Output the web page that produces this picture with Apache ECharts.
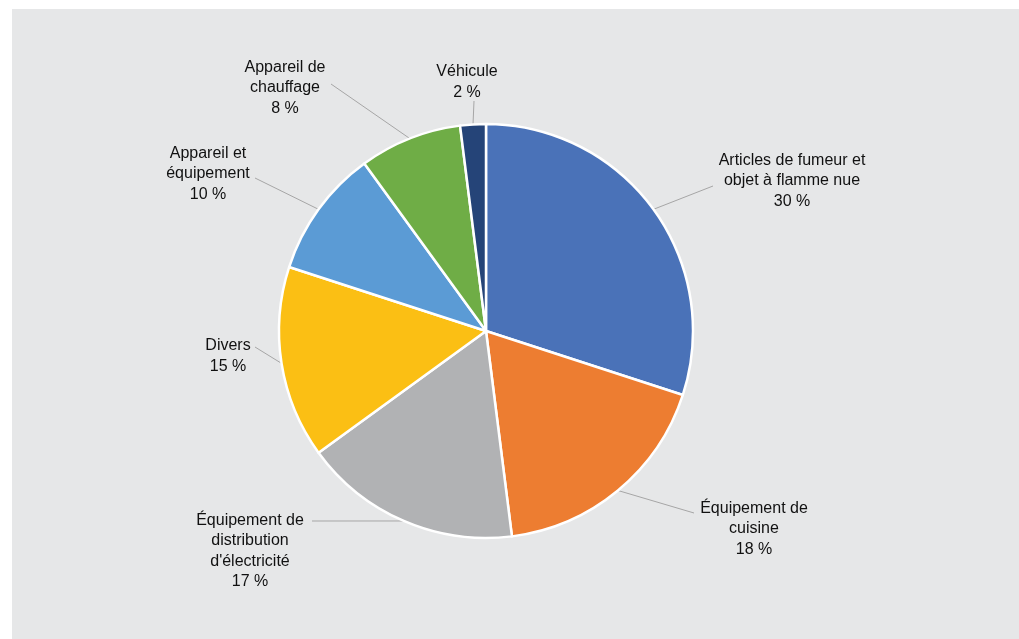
<!DOCTYPE html>
<html>
<head>
<meta charset="utf-8">
<script src="https://cdn.jsdelivr.net/npm/echarts@6/dist/echarts.min.js"></script>
<style>
  html, body { margin: 0; padding: 0; background: #ffffff; }
  #chart { width: 1019px; height: 639px; }
</style>
</head>
<body>
<div id="chart"></div>
<script>
// Causes of fires, share in percent
const categories = [
  'Articles de fumeur et\nobjet à flamme nue',
  'Équipement de\ncuisine',
  'Équipement de\ndistribution\nd\'électricité',
  'Divers',
  'Appareil et\néquipement',
  'Appareil de\nchauffage',
  'Véhicule'
];
const shares = [30, 18, 17, 15, 10, 8, 2];
const colors = ['#4a72b8', '#ed7d31', '#b1b2b4', '#fbbf14', '#5b9bd5', '#6fad46', '#254478'];

// label placement: centre of each text block, and where its leader line ends
const labelSpots = [
  [792, 181],
  [754, 529],
  [250, 551],
  [228, 356],
  [208, 174],
  [285, 88],
  [467, 82]
];
const leaderEnds = [
  [713, 186],
  [694, 513],
  [312, 521],
  [255, 347],
  [255, 178],
  [331, 84],
  [474, 101]
];

const CX = 486, CY = 331, R = 207;

// point on the rim at the middle of each slice (pie starts at 12 o'clock, clockwise)
const total = shares.reduce((a, b) => a + b, 0);
let acc = 0;
const rimPoints = shares.map(v => {
  const mid = (acc + v / 2) / total * Math.PI * 2;
  acc += v;
  return [CX + R * Math.sin(mid), CY - R * Math.cos(mid)];
});

const data = categories.map((name, i) => ({
  name: name,
  value: shares[i],
  itemStyle: { color: colors[i] }
}));

const chart = echarts.init(document.getElementById('chart'), null, { renderer: 'canvas' });

chart.setOption({
  animation: false,
  backgroundColor: '#ffffff',
  graphic: [{
    type: 'rect',
    z: -10,
    shape: { x: 12, y: 9, width: 1007, height: 630 },
    style: { fill: '#e6e7e8' }
  }],
  series: [{
    type: 'pie',
    center: [CX, CY],
    radius: R,
    startAngle: 90,
    clockwise: true,
    data: data,
    itemStyle: { borderColor: '#ffffff', borderWidth: 2.5 },
    emphasis: { disabled: true },
    label: {
      show: true,
      formatter: p => p.name + '\n' + p.value + ' %',
      fontFamily: "'Liberation Sans', Arial, sans-serif",
      fontSize: 16,
      lineHeight: 20.5,
      color: '#111111',
      align: 'center'
    },
    labelLine: {
      show: true,
      length: 20,
      length2: 0,
      lineStyle: { color: '#a6a6a6', width: 1 }
    },
    labelLayout: function (params) {
      const i = params.dataIndex;
      const s = labelSpots[i];
      const e = leaderEnds[i];
      return {
        x: s[0],
        y: s[1],
        align: 'center',
        verticalAlign: 'middle',
        labelLinePoints: [rimPoints[i], e, e]
      };
    }
  }]
});
</script>
</body>
</html>
